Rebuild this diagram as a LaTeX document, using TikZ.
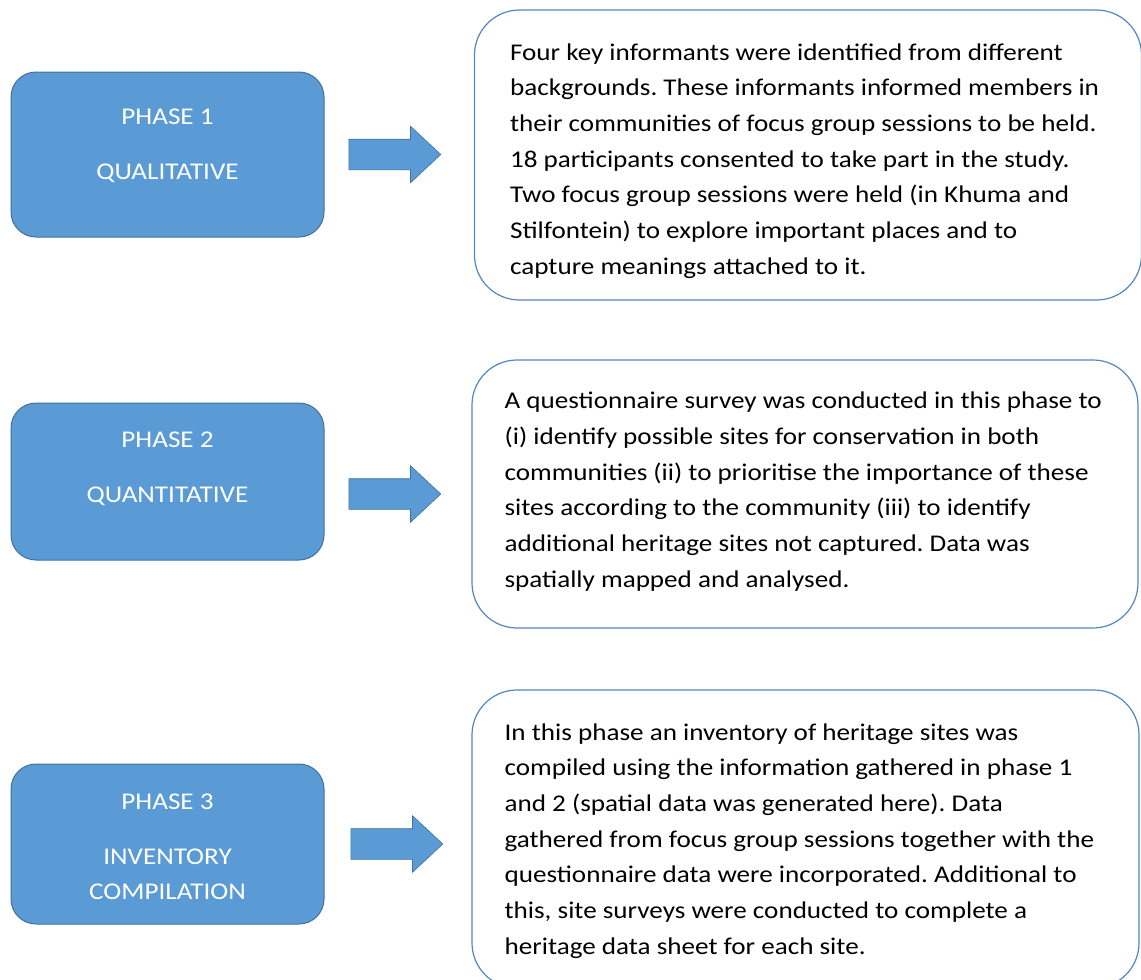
\documentclass[tikz,border=0pt]{standalone}
\usepackage{fontspec}
\setmainfont{Carlito}[FakeStretch=1.13]
\usepackage{tikz}
\usetikzlibrary{positioning, shapes.arrows}
\definecolor{phaseblue}{RGB}{91, 155, 213}
\definecolor{phaseedge}{RGB}{65, 113, 156}
\definecolor{descedge}{RGB}{84, 135, 190}
\frenchspacing

\begin{document}
\begin{tikzpicture}[
			x=1pt, y=-1pt,
			phase/.style={rectangle, draw=phaseedge, line width=1pt, fill=phaseblue, minimum width=313pt, rounded corners=25pt},
			phasetext/.style={text=white, align=center, font=\fontsize{24}{35}\selectfont},
			descbox/.style={rectangle, draw=descedge, line width=1.2pt, fill=white, rounded corners=45pt},
			desctext/.style={align=left, inner sep=0pt, font=\fontsize{24}{35.7}\selectfont},
			blockarrow/.style={single arrow, draw=phaseedge, line width=0.6pt, fill=phaseblue, minimum height=92pt, inner xsep=0pt, inner ysep=15pt, text height=0pt, text depth=0pt, single arrow head extend=13pt, single arrow tip angle=86}
		]
		\useasboundingbox (0,0) rectangle (1141,980);
		
		% left column
		\node[phase, minimum height=165pt] (phase1) at (167.5,154.5) {};
		\node[phase, minimum height=157pt] (phase2) at (167.5,481.5) {};
		\node[phase, minimum height=160pt] (phase3) at (167.5,844) {};
		\node[phasetext] (phase1txt) at (167.5,146) {PHASE 1\\[20pt]QUALITATIVE};
		\node[phasetext] (phase2txt) at (167.5,469) {PHASE 2\\[20pt]QUANTITATIVE};
		\node[phasetext] (phase3txt) at (167.5,847) {PHASE 3\\[20pt]INVENTORY\\COMPILATION};
		
		% right column
		\node[descbox, minimum width=667pt, minimum height=290pt] (desc1) at (808,155) {};
		\node[descbox, minimum width=666pt, minimum height=268pt] (desc2) at (805,494) {};
		\node[descbox, minimum width=667pt, minimum height=298pt] (desc3) at (805.5,839) {};
		\node[desctext, anchor=west] (desc1txt) at ([xshift=36pt, yshift=-6pt]desc1.west) {Four key informants were identified from different\\
			backgrounds. These informants informed members in\\
			their communities of focus group sessions to be held.\\
			18 participants consented to take part in the study.\\
			Two focus group sessions were held (in Khuma and\\
			Stilfontein) to explore important places and to\\
			capture meanings attached to it.};
		\node[desctext, anchor=west] (desc2txt) at ([xshift=33pt, yshift=2.5pt]desc2.west) {A questionnaire survey was conducted in this phase to\\
			(i) identify possible sites for conservation in both\\
			communities (ii) to prioritise the importance of these\\
			sites according to the community (iii) to identify\\
			additional heritage sites not captured. Data was\\
			spatially mapped and analysed.};
		\node[desctext, anchor=west] (desc3txt) at ([xshift=33pt, yshift=-2pt]desc3.west) {In this phase an inventory of heritage sites was\\
			compiled using the information gathered in phase 1\\
			and 2 (spatial data was generated here). Data\\
			gathered from focus group sessions together with the\\
			questionnaire data were incorporated. Additional to\\
			this, site surveys were conducted to complete a\\
			heritage data sheet for each site.};
		
		% arrows
		\node[blockarrow, right=24pt of phase1] (arrow1) {};
		\node[blockarrow, right=24pt of phase2, yshift=-12.5pt] (arrow2) {};
		\node[blockarrow, right=26pt of phase3] (arrow3) {};
		\end{tikzpicture}
\end{document}
